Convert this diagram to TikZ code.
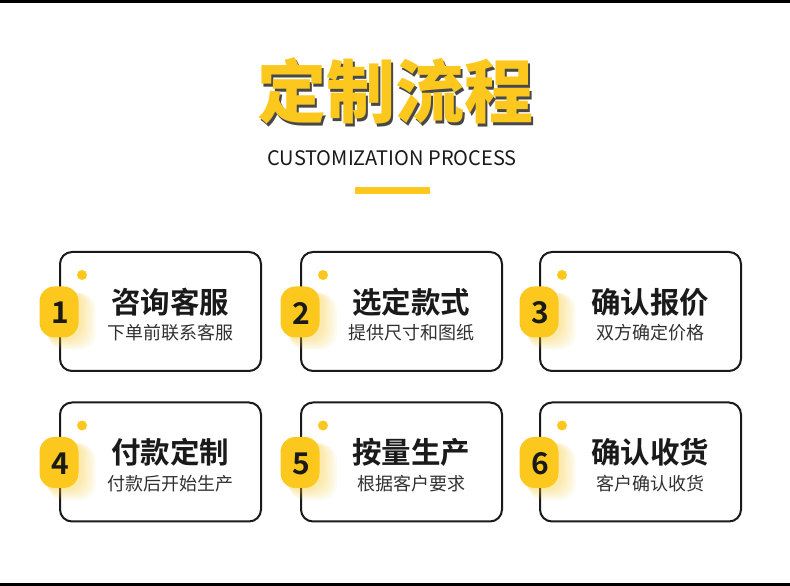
\documentclass[tikz,border=0pt]{standalone}
\usepackage{fontspec}
\newfontfamily\cjk{Noto Sans CJK SC}
\newfontfamily\cjkb{Noto Sans CJK SC Bold}
\newfontfamily\cjkblack{Noto Sans CJK SC Black}
\definecolor{gold}{RGB}{252,200,30}
\definecolor{ink}{RGB}{26,26,26}
\newcommand{\shadowtext}[1]{%
  \makebox[0pt][l]{\hspace{2.5pt}\raisebox{-3pt}{\color{ink!80}#1}}{\color{gold}#1}}
\tikzset{
  card/.style={draw=ink, line width=2pt, rounded corners=12pt, fill=white,
    minimum width=201pt, minimum height=119pt, inner sep=0pt},
  head/.style={font=\cjkb\fontsize{29.5}{31}\selectfont, text=ink, inner sep=0pt},
  sub/.style={font=\cjk\fontsize{18}{20}\selectfont, text=ink!90, inner sep=0pt},
  num/.style={font=\cjkb\fontsize{30}{32}\selectfont, text=ink, inner sep=0pt},
}
\begin{document}
\begin{tikzpicture}[x=1pt, y=1pt]
    % page and its black bands
    \useasboundingbox (0,0) rectangle (790,586);
    \fill[white] (0,0) rectangle (790,586);
    \fill[black] (0,583) rectangle (790,586);
    \fill[black] (0,0) rectangle (790,2.5);

    % title with its shadow
    \node[font=\cjkblack\fontsize{69}{71}\selectfont, inner sep=0pt]
      (title) at (395,494) {\shadowtext{定制流程}};
    \node[font=\cjk\fontsize{20}{22}\selectfont, text=ink, inner sep=0pt]
      (entitle) at (392,428) {CUSTOMIZATION PROCESS};
    \fill[gold] (355,392) rectangle (430,399);

    % cards
    \foreach \i/\x/\y/\h/\s in {
        1/160.5/274.5/咨询客服/下单前联系客服,
        2/401.5/274.5/选定款式/提供尺寸和图纸,
        3/640.5/274.5/确认报价/双方确定价格,
        4/160.5/124/付款定制/付款后开始生产,
        5/401.5/124/按量生产/根据客户要求,
        6/640.5/124/确认收货/客户确认收货}{
      \node[card] (c\i) at (\x,\y) {};
      % soft glow behind the badge
      \foreach \k in {1,...,7}
        \fill[gold, opacity=0.06, rounded corners=16pt]
          ([xshift=-118pt+\k*0.8pt, yshift=-27pt-\k*1.6pt]c\i.center)
          rectangle ([xshift=-80pt+\k*2.2pt, yshift=22pt-\k*0.6pt]c\i.center);
      \fill[gold, rounded corners=15pt]
        ([xshift=-121pt, yshift=-26pt]c\i.center)
        rectangle ([xshift=-82pt, yshift=25pt]c\i.center);
      \node[num] (n\i) at ([xshift=-100.5pt, yshift=-1.5pt]c\i.center) {\i};
      \fill[gold] ([xshift=-78.5pt, yshift=36.5pt]c\i.center) circle (5pt);
      \node[head] (h\i) at ([xshift=9.5pt, yshift=9.5pt]c\i.center) {\h};
      \node[sub] (s\i) at ([xshift=10pt, yshift=-21.5pt]c\i.center) {\s};
    }
\end{tikzpicture}
\end{document}
